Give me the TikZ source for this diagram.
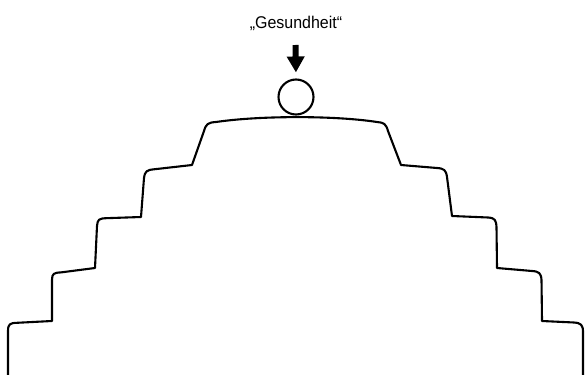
\documentclass[tikz,border=0pt]{standalone}
\usepackage{fontspec}
\setmainfont{Liberation Sans}
\newfontfamily\labelfont[FakeStretch=0.94]{Liberation Sans}
\usetikzlibrary{arrows.meta}
\begin{document}
\begin{tikzpicture}[x=1pt,y=-1pt,
  stair/.style={line width=2.1pt, line join=round, line cap=round},
  ball/.style={circle, draw, line width=2.1pt, minimum size=35pt, inner sep=0pt},
  label/.style={font=\labelfont\fontsize{17}{19}\selectfont, anchor=base, inner sep=0pt},
  pointer/.style={line width=6pt, -{Triangle[width=17pt,length=16pt]}}]
\useasboundingbox (0,0) rectangle (585,374);
\clip (0,0) rectangle (585,374);
% text
\node[label] (title) at (296,28.3) {„Gesundheit“};
% ball
\node[ball] (ball) at (296,97) {};
% arrow
\coordinate (arrtop) at (295.5,45);
\draw[pointer, shorten >=6pt] (arrtop) -- (ball.north);
% staircase
\draw[stair] (8,380) -- (8,331) .. controls (8,324) and (10,323) .. (17,322.8) -- (52,321)
  -- (52,280) .. controls (52,273.5) and (54,272.7) .. (61,272.4) -- (95,268)
  -- (97,226) .. controls (97.5,219.5) and (99,218.5) .. (106,218.2) -- (141,217)
  -- (144,178) .. controls (145,171) and (147,170) .. (154,169.3) -- (192,165)
  -- (204,131) .. controls (206,124) and (208,122.5) .. (216,122)
  .. controls (260,115.5) and (335,115.5) .. (377,122)
  .. controls (384,122.5) and (386,124) .. (388,131) -- (401,165)
  -- (437,168) .. controls (444,168.5) and (446,170) .. (447,177) -- (452,216)
  -- (488,217.5) .. controls (495,218) and (496,220) .. (496.5,227) -- (497,268)
  -- (532,271) .. controls (539,271.5) and (541,273) .. (541.5,280) -- (542,321)
  -- (574,322.5) .. controls (581,323) and (583,325) .. (583,332) -- (583,380);
\end{tikzpicture}
\end{document}
